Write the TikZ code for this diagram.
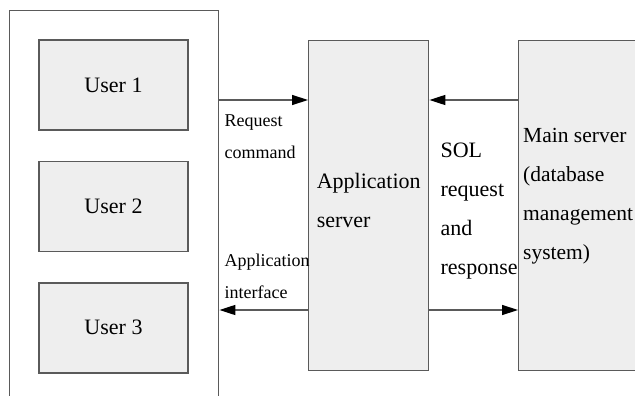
\documentclass[tikz,border=0pt]{standalone}
\usepackage{fontspec}
\setmainfont{Liberation Serif}
\usetikzlibrary{arrows.meta,positioning}
\definecolor{boxgray}{HTML}{EEEEEE}
\definecolor{linegray}{HTML}{5A5A5A}

\begin{document}
\begin{tikzpicture}[x=1pt,y=-1pt,
  box/.style={draw=linegray,line width=1.4pt,fill=boxgray,inner sep=0pt},
  big/.style={font=\fontsize{22}{39}\selectfont},
  small/.style={font=\fontsize{18}{32}\selectfont},
  txt/.style={align=left,inner sep=0pt,anchor=north west},
  arr/.style={draw=linegray,line width=1.4pt,-{Triangle[length=16pt,width=10pt,color=black]}}]

          \useasboundingbox (0,0) rectangle (635,396);
          \clip (0,0) rectangle (635,396);

          \node[draw=linegray,line width=1.4pt,minimum width=209pt,minimum height=430pt,anchor=north west] (client) at (9,10) {};
          \node[box,big,minimum width=149pt,minimum height=90pt] (u1) at (113.5,85) {User 1};
          \node[box,big,minimum width=149pt,minimum height=90pt] (u2) [below=30pt of u1] {User 2};
          \node[box,big,minimum width=149pt,minimum height=90pt] (u3) [below=30pt of u2] {User 3};

          \node[box,big,align=left,text depth=10pt,minimum width=120pt,minimum height=330pt,anchor=north west] (app) at (308,40) {Application\\server};
          \node[box,minimum width=160pt,minimum height=330pt,anchor=north west] (main) at (518,40) {};

          \node[txt,big,font=\fontsize{21.5}{39}\selectfont] (maintext) at ([xshift=5pt,yshift=-88pt]main.north west) {Main server\\(database\\management\\system)};
          \node[txt,big] (sqltext) at ([xshift=11pt,yshift=-103pt]app.north east) {SOL\\request\\and\\response};
          \node[txt,small] (reqtext) at ([xshift=5pt,yshift=-105pt]client.north east) {Request\\command};
          \node[txt,small] (apitext) at ([xshift=5pt,yshift=-244pt]client.north east) {Application\\interface};

          \coordinate (hi) at (0,100);
          \coordinate (lo) at (0,310);
          \draw[arr] (client.east |- hi) -- (app.west |- hi);
          \draw[arr] (main.west |- hi) -- (app.east |- hi);
          \draw[arr] (app.west |- lo) -- (client.east |- lo);
          \draw[arr] (app.east |- lo) -- (main.west |- lo);
\end{tikzpicture}
\end{document}
